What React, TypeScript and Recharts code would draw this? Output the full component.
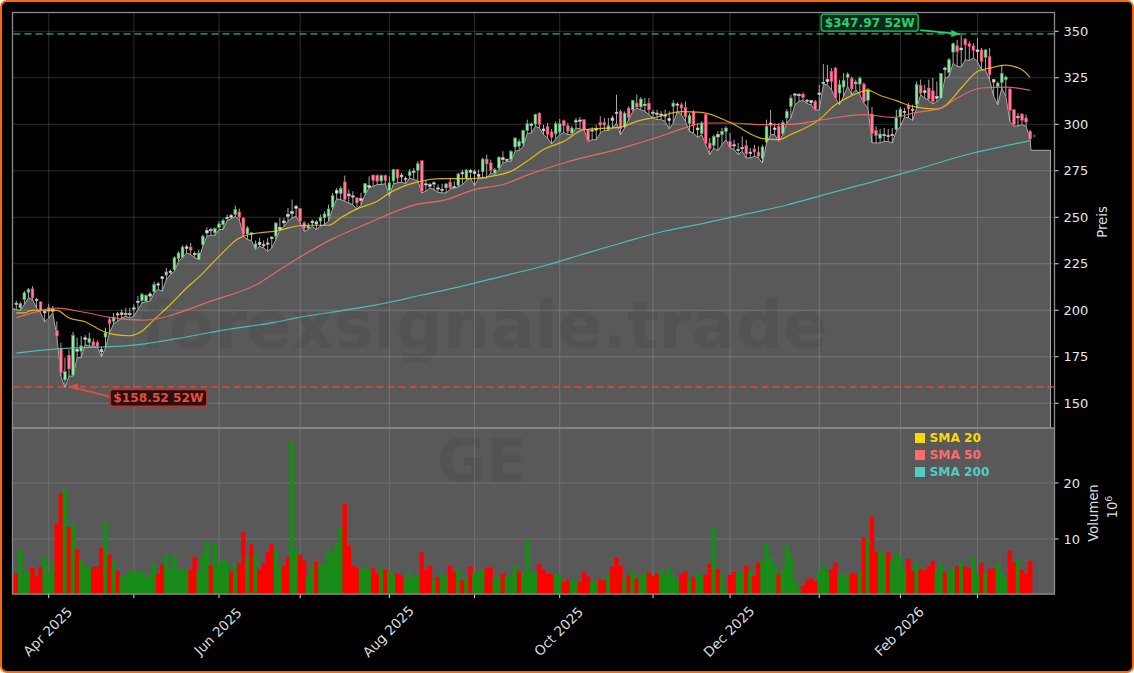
import React from "react";
import { ComposedChart, Area, Bar, Line, XAxis, YAxis, CartesianGrid, ReferenceLine, ReferenceDot } from "recharts";

const FONT = '"DejaVu Sans", sans-serif';

const opens = [
203.8,201.3,205.8,209.7,211.5,205.8,204.5,199.5,199.5,199.5,
189.1,179.5,162.5,175.7,165.2,178,178,184.3,182.7,183,
182.7,178.9,185.6,195,194.1,197.5,197.7,197.8,197.8,200.8,
204.3,205.2,204.9,208.8,209.9,213.5,217,218.9,220.5,221.9,
227.8,228.5,233.2,234,230,227.3,235.3,241.6,243,241.6,
244.6,246,249.3,250,251.4,252.9,249.6,241,241.2,233.5,
236.6,234.9,235.7,238.5,239.8,243.5,247,250.5,252,254.8,
254.7,247,244.1,247,247.5,247.9,249.7,250.5,255.4,263,
262.7,269,262.5,261,260.4,259,263.1,266,272.7,272.4,
269.5,272.4,264.5,269.5,275.6,272.7,270.5,272.4,274.4,275.3,
280.4,268,266.7,268,265.5,264.8,265.8,269,266.5,267,
273.7,271.1,275.2,273.5,272,274.5,281.3,279.2,273.8,276.5,
281,280.5,281,287.8,288.2,289.6,296.7,299.3,300.1,306,
297.5,298.9,295.9,294.8,295.8,301.9,299.2,295.3,301.5,302,
302.5,297.1,296.5,297,301,301,297.1,303.4,306,307,
298.5,308.7,307.8,311.4,309.3,310.8,311.4,306.5,305.5,305,
304.5,302,309.6,310.5,310.5,309.1,300.3,306.6,297,295,
305.2,289.9,288.7,294.4,294.4,296.2,290.8,288.7,286,287,
288.5,285,286.7,285.1,281.5,290.3,299.6,297.1,298.9,294.9,
303.4,309.6,316,315.6,316.2,313,311.7,312.3,316,322,
323,328.4,330.2,316.8,320,325.2,324.8,322,321.6,321.6,
312.9,305.5,296.7,292.5,294,293.5,294,297.1,304,306.5,
310,307.5,310.5,320.9,317,319.5,318,314,314.1,329.5,
327.9,338.8,342.2,340,345.8,343.3,342.2,339,340,336,
336.5,324,320.4,322.5,324,319,307.8,303.7,305.5,303.4,
296.2,293];

const highs = [
205.2,204.5,210.3,212,212.9,206.7,204.9,200.4,203.5,202.2,
194.1,182.5,174.5,178.9,188.4,185.2,186.1,186.6,187.9,184.8,
183.8,180.2,190.6,196.3,198.6,199.2,200.4,201.3,201.3,203.1,
207.6,209.4,208.5,209.9,215.3,215.3,218.3,222.8,221.9,229,
231.7,235,235.3,236.2,231.7,232.6,240.7,244.6,244.3,244.6,
247.8,249.3,251.4,251.8,256.3,254.7,250,245.2,241.6,237.5,
238.9,237.5,238.9,239.8,247.3,249.7,249.7,255,259.5,256.8,
255,247.9,247,248.8,248.4,251.5,253.2,256.8,263.1,265.8,
266.7,272.4,265,264,260.9,263.1,268.4,272,272.9,273.1,
272.9,272.9,272,276,276,273.8,272,276,276.5,280.1,
280.6,270.2,268.5,269.4,267.6,268.1,268.5,271.1,269.4,273.8,
275.6,276,276,275.6,275.6,281.9,283.7,281,276.5,282.8,
285.5,281.5,286,293,292,297.1,302.5,301,305.7,306.4,
299.8,300.7,297.4,301.6,302.8,302.5,300.7,299.2,303.4,303.9,
302.5,297.5,298.5,299.8,304.3,303.4,303.4,304.6,315.9,307.8,
306.9,309.6,313.2,315.9,314.6,314.1,314.1,307.8,307.8,307,
307.8,307,312.9,311.8,311.8,312.3,306,307.5,300.7,301.6,
305.7,292.6,294.4,296.2,298,298.9,295.3,291.7,289.9,293.5,
291.7,287.3,289,288.1,289,302.5,307.8,300.7,300.7,302.1,
308.2,315.9,316.8,316.8,317.1,313.6,313.2,313.2,321.3,332.4,
332,330.2,330.8,324,327.5,327.9,325.7,324,325.7,322.5,
319.5,309.3,298.9,297.5,298,297.5,298,307.8,309.3,308.7,
311.4,310.5,323,324,321.3,324,324.9,323,327.5,331.1,
335.6,344,345.4,347.97,346.3,344.5,343.6,346.3,341,340.4,
341,324.3,323,332,326.1,319.5,308.2,306,306,305.2,
297.1,294.5];

const lows = [
200.4,199.9,203.1,206.7,205.8,201.3,198.6,193.8,195.9,198.6,
186.1,164.6,158.52,164.6,164.6,174.5,174.5,181.6,180.7,180.7,
180.2,175,179.8,187.9,192.7,194.1,195.9,196.8,195.9,196.8,
200.4,204,204.5,204.9,209.4,211.2,210.3,216.5,219.2,221,
226.4,228.2,230.8,230,228.2,227.3,234.4,239.8,240.3,240.3,
243.4,243.4,248.2,249.3,250.5,248.7,239.8,238,237.5,232.6,
234.4,233.5,231.7,233.5,238,243,245.2,247.9,249.7,250.5,
247,242.5,243.4,245.2,243.4,245.2,246.1,247.9,254.5,259.9,
259.5,258.6,257.7,256.8,254.1,256.8,262.2,265.8,266.7,267.6,
267.6,268.1,261.3,268.1,268.5,268.8,268.1,271.1,270.2,269.9,
263.1,264,265.8,264.9,263.4,263.1,263.1,265.2,265.8,266.3,
267.6,269.9,271.1,267,271.1,271.1,271.1,273.8,272.9,275.6,
279.2,280.1,280.1,285.5,286,288.1,295,295.3,298.9,298,
294.4,292.6,289.4,292.1,294.4,295.7,294.4,294.4,298,297.5,
297.1,290.8,291.7,291.7,295.3,296.7,296.7,298,300.7,294.4,
298,302.5,306.9,308.7,307.8,307,305.2,303.4,302.5,302.5,
301.6,297.5,300.7,307,305.2,301.6,296.2,295.3,293,294.4,
289,283.7,287.3,285.8,289,291.7,287.3,286.4,283.7,285.5,
281.9,281.9,282.8,281.9,279.2,289.9,294.4,294.4,290.8,294.4,
300.7,303.4,310.5,312.3,312.9,311.1,310.5,307.5,307.8,321.3,
321.3,318.6,314.1,310.5,315,320.4,315.9,318.6,315.9,311.4,
308.7,290,290,290,290.8,290.8,290,296.2,298.9,303.9,
303.4,302.1,308.7,315.9,314.1,312.9,311,312.3,314.1,324.8,
325.7,332.9,331.1,330.8,334.7,334.3,335.6,333.8,329.3,329,
324,315,310.5,319.5,315,301.6,298.9,299.2,299.8,298.9,
291.7,293];

const closes = [
203.1,203.5,209.4,211.2,206.7,205.2,199.9,198.6,201.3,200.4,
186.1,166.4,167,168.5,186.5,179,180.9,185.2,184.8,181,
180.7,177.7,187.9,192.7,196.3,198.1,198.6,198.3,198.3,201.3,
204.9,208.5,208,207.6,213.8,214.2,218,220.6,221,228.2,
230.8,234,234.1,232.3,230.5,230.8,239.8,242.8,243.4,243.9,
246.4,248.2,250,251,254.3,250,240.7,244.3,241.6,235.7,
235.3,235.3,236.2,239.3,246.9,244.5,248,251.5,253,255.9,
247.9,244.1,245.5,247.9,246.4,250,251.8,254.5,261.6,264.3,
265.6,259.5,261.5,261.5,257.7,260,268,267,269.9,269.4,
272.4,269.9,268.5,275.6,271.1,271.7,271,274.5,274.8,278.8,
264,267.5,267.6,268.5,265.8,265,267.9,265.8,266.3,273.3,
274,275.4,274.2,274.5,273,281.3,278.7,275.2,275.6,282.3,
282,281.2,285.5,292.6,290.8,296.6,300.3,300.1,305.2,299.8,
296.4,294.4,293,300.3,300.3,299.2,296.2,298,301.9,302.3,
297.1,291.2,297,297.5,299.6,299.6,299.2,302.1,306.5,297.5,
306,303.6,312.7,309.3,313.6,310.3,307.8,306,306,305.5,
305,303,311.4,310.9,308.7,303.9,304.8,299.6,298,300.7,
289.6,286.9,293.5,293.2,296.2,298,287.6,289,286.5,287.5,
284,284.5,285.1,282.8,287.8,298.9,300.7,298,291.4,301,
306.9,314.1,316.3,316,314.5,312.8,312.7,307.8,316.8,322.5,
324,323,314.1,321.3,323.6,327,319,322.5,324.8,312.3,
318.6,295,293.9,294.8,294.5,294,294.5,303.4,308.2,307,
308.2,308,321.3,316.8,318,313.6,312.3,315,327.2,330.2,
334.7,343.3,339,341,342.7,341.8,339.7,340,333.8,340,
326.6,322.7,322.2,327.2,325.4,307.3,299.8,304.2,302.1,301.2,
292.1,294.5];

const volumes = [
3.9,8,4.05,4.05,4.8,3.3,5,6.9,3.8,6,
12.7,18.2,18.7,12.1,12.6,8.1,6.4,5.2,5,5,
5,8.45,13,7.2,6,4.3,3.3,3.45,4.2,4.6,
3.9,4.3,3.2,3.9,5.7,3.8,5.4,7.2,4.6,7.2,
4.6,4.5,4.4,4.5,6.8,4.2,7.2,9.5,5.2,9.1,
5.4,6.4,5.8,4.2,5.7,5.7,11.2,6.8,9,7.3,
4.6,5.7,7.7,9.2,8.1,5.2,5.2,6.8,27.3,8.1,
7.2,6.1,3.3,5.2,5.9,5.6,5.6,8,7.5,9.3,
12,16.3,8.7,5.2,4.8,4.6,5.1,4.5,4.8,3.9,
4.8,4.5,4.3,3.3,3.9,3.5,2.9,4.3,3.2,3.6,
7.6,4.5,5.2,2.6,3.2,3.8,3.3,5.2,4.2,4.6,
2.6,3.2,5.1,3.9,4.2,4.5,4.9,4.9,3,3,
3.9,3.3,3.6,5.4,4.2,3.9,9.7,4.2,3.9,5.6,
4.5,3.8,3.8,3.9,3.6,2.3,2.7,2.6,2.6,2.4,
4.2,3.3,2.4,2.4,2.7,2.6,3.8,5,6.6,5.2,
3,3.5,4.2,2.9,3.6,3.8,4,3.3,3.8,4.6,
3.6,4.8,3.6,2.6,3.8,4.2,2.7,3.2,4,3.5,
3.6,5.6,12,4.6,3.9,1.2,3.6,4.1,4,4.1,
5.2,4.2,3.4,5.8,5.9,9.2,6.7,5.2,3.7,4.5,
8.8,6.8,2.6,0.9,1.7,2.6,3,2.4,4.2,5.5,
4.2,4.6,5.8,3.5,3.9,3.3,3.8,3.9,4,10.3,
10,14,7.7,7.7,7.4,7.6,6.1,7.3,6.6,4.5,
6.4,4.3,5.7,4.6,4.5,5.1,6.1,4.3,5.7,4,
4.3,5,5.1,6,5.1,4.7,6.8,3.9,5.7,3.9,
4.7,4.7,5.7,4.2,3.2,7.9,5.8,6.3,4.6,3.8,
6.1];

const redBars = [0,4,5,6,10,11,13,15,19,20,21,23,25,35,36,43,44,48,53,55,56,58,60,61,62,63,66,67,70,71,74,81,82,83,84,
88,89,91,94,95,100,101,102,104,107,108,110,112,116,117,120,124,129,130,131,132,135,136,139,140,141,144,145,147,148,149,151,153,156,157,158,164,165,167,170,171,173,
176,177,180,182,183,188,194,195,196,197,201,202,206,207,209,211,212,215,220,221,223,224,225,226,229,232,234,235,238,240,241,245,246,248,249,250];

const sma20 = [[0,198.6],[2,198.6],[4,200],[7,200],[10,199.9],[13,195.9],[17,193.8],[21,189.1],[24,187],[28,186.3],[31,188.8],[34,195],[38,203.1],[42,212],[45,217.8],[50,229],[55,238.9],[58,241],[64,242.6],[71,245.7],[77,245.7],[80,249.7],[84,254.5],[89,258.6],[92,263],[99,269],[105,270.8],[112,270.8],[118,272.4],[122,274.7],[127,281.8],[130,286.4],[135,290.8],[140,297.1],[149,298.5],[153,301.6],[158,303.9],[164,306.8],[169,306.4],[176,301],[184,292.3],[188,291.7],[191,294.5],[198,302.5],[202,310.5],[206,315.4],[210,318.2],[213,315.5],[217,312.7],[221,309.6],[227,308.2],[229,310],[233,319.5],[237,328.4],[240,330.2],[244,331.8],[248,329.3],[250,325.2]];
const sma50 = [[0,196],[4,198.6],[10,201.1],[16,199.2],[24,195.9],[31,194.7],[36,195.9],[40,198.6],[48,204.9],[60,214.7],[64,220.5],[78,238.4],[87,247],[98,256.5],[106,259.5],[113,264.9],[120,267.6],[127,273.5],[135,279.2],[150,287.6],[160,294.4],[166,298.9],[170,300.7],[176,300.7],[184,299.8],[191,300],[199,302.5],[209,305.2],[216,303.7],[222,306.4],[228,308.7],[232,314.1],[238,319.5],[244,320],[250,318.2]];
const sma200 = [[0,177],[10,179.2],[23,180.4],[29,181.3],[40,184.9],[50,188.9],[64,193.6],[70,196.3],[80,199.7],[90,203.4],[100,208.2],[110,213],[120,218.4],[130,223.8],[140,230.3],[150,236.7],[160,242.6],[170,247],[180,251.8],[190,256.6],[200,262.6],[210,268.4],[220,274.4],[235,284],[245,288.9],[250,291.2]];

const axisLabels: Record<number, string> = { 8: "Apr 2025", 50: "Jun 2025", 92: "Aug 2025", 134: "Oct 2025", 176: "Dec 2025", 218: "Feb 2026" };
const monthTicks = [8, 29, 50, 70, 92, 113, 134, 157, 176, 198, 218, 237];
const priceTicks = [150, 175, 200, 225, 250, 275, 300, 325, 350];
const volumeTicks = [10, 20];
const legendItems = [["SMA 20", "#ffd700"], ["SMA 50", "#ff6b6b"], ["SMA 200", "#4ecdc4"]];

const PRICE_DOMAIN = [136.7, 360.1];
const VOLUME_DOMAIN = [0.18, 29.8];
const X_DOMAIN = [-0.93, 256];
const FORMING = 251;

const lookup = (pairs: number[][]) => new Map(pairs.map((p) => [p[0], p[1]]));
const s20 = lookup(sma20), s50 = lookup(sma50), s200 = lookup(sma200);

const priceRows: any[] = opens.map((open, i) => ({
  i, open, high: highs[i], low: lows[i], close: closes[i],
  range: [lows[i], highs[i]],
  edge: i === FORMING ? 286 : lows[i],
  sma20: s20.get(i) ?? null, sma50: s50.get(i) ?? null, sma200: s200.get(i) ?? null,
}));
// the shaded low line starts at the panel edge, steps down after the last full session, closes at the floor
priceRows.splice(FORMING, 0, { i: 250.2, edge: 286 });
priceRows.unshift({ i: X_DOMAIN[0], edge: 201 });
priceRows.push({ i: 255, edge: 286 }, { i: 255.02, edge: PRICE_DOMAIN[0] });

const redSet = new Set(redBars);
const volumeRows = volumes.map((v, i) => ({ i, v, red: redSet.has(i) }));

const CANDLE_W = 2.8;
const Candle = (p: any) => {
  const { x, y, width, height, payload } = p;
  if (payload.high == null) return null;
  const { open, high, low, close, i } = payload;
  const k = height / (high - low || 1);
  const top = y + (high - Math.max(open, close)) * k;
  const raw = Math.abs(open - close) * k;
  const h = Math.max(raw, 1.2);
  const cx = x + width / 2;
  const up = close >= open;
  if (i === FORMING) return <rect x={cx - CANDLE_W / 2} y={top} width={CANDLE_W} height={h} fill="#1d5a33" />;
  const tiny = raw < 2.6;
  const fill = tiny ? (up ? "#dcefdc" : "#f6d3da") : up ? "#9be2a5" : "#ff7f9b";
  const edge = tiny ? "#bdbdbd" : up ? "#3f9f5e" : "#d93a66";
  return (
    <g>
      <line x1={cx} x2={cx} y1={y} y2={y + height} stroke="#bcbcbc" strokeWidth={0.9} />
      <rect x={cx - CANDLE_W / 2} y={top} width={CANDLE_W} height={h} fill={fill} stroke={edge} strokeWidth={0.6} />
    </g>
  );
};

const VolumeBar = ({ x, y, width, height, payload }: any) => (
  <rect x={x + width / 2 - 2.25} y={y} width={4.5} height={height} fill={payload.red ? "#ff0000" : "#178c17"} />
);

const Note = ({ cx, cy, text, color, edge, bg, box, tip }: any) => (
  <g>
    <line x1={cx + box[2]} y1={cy + box[4]} x2={cx + tip[0]} y2={cy + tip[1]} stroke={color} strokeWidth={1.8} />
    <polygon points={box[2] < 0
      ? `${cx + tip[0]},${cy + tip[1]} ${cx + tip[0] - 9},${cy + tip[1] - 4} ${cx + tip[0] - 9},${cy + tip[1] + 3}`
      : `${cx + tip[0]},${cy + tip[1]} ${cx + tip[0] + 9},${cy + tip[1] - 3} ${cx + tip[0] + 9},${cy + tip[1] + 4}`} fill={color} />
    <rect x={cx + box[0]} y={cy + box[1]} width={97} height={17} rx={3} fill={bg} stroke={edge} strokeWidth={1.8} />
    <text x={cx + box[0] + 48.5} y={cy + box[1] + 13} textAnchor="middle" fontFamily={FONT} fontWeight="bold" fontSize={12.2} fill={color}>{text}</text>
  </g>
);

const MonthTick = ({ x, y, payload }: any) => {
  const label = axisLabels[payload.value];
  return (
    <g>
      <line x1={x} x2={x} y1={y - 4} y2={y} stroke="#e0e0e0" strokeWidth={1} />
      {label ? (
        <text x={x - 0.5} y={y + 34} textAnchor="middle" dominantBaseline="middle" fontFamily={FONT} fontSize={13.6} fill="#dcdcdc" transform={`rotate(-45 ${x - 0.5} ${y + 34})`}>{label}</text>
      ) : null}
    </g>
  );
};

const gridStroke = "rgba(255,255,255,0.17)";
const yTick = { fill: "#e6e6e6", fontSize: 13, fontFamily: FONT };

export default function App() {
  return (
    <div style={{ position: "absolute", left: 0, top: 0, width: 1134, height: 673, background: "#000", overflow: "hidden", boxSizing: "border-box", border: "2.5px solid #ff6600", borderRadius: 7 }}>
      <div style={{ position: "absolute", left: -2.5, top: -2.5, width: 1134, height: 673 }}>
        <div style={{ position: "absolute", left: 0, top: 0 }}>
          <ComposedChart width={1134} height={428} data={priceRows} margin={{ top: 12.5, left: 12.5, right: 0, bottom: 0 }}>
            <CartesianGrid stroke={gridStroke} strokeWidth={1} />
            <XAxis dataKey="i" type="number" domain={X_DOMAIN} ticks={monthTicks} hide allowDataOverflow />
            <YAxis orientation="right" width={79.5} domain={PRICE_DOMAIN} ticks={priceTicks} allowDataOverflow axisLine={false} tickSize={4} tickMargin={5} tick={yTick} tickLine={{ stroke: "#e0e0e0" }} interval={0} />
            <Area dataKey="edge" type="linear" stroke="#a9a9a9" strokeWidth={1} fill="#ffffff" fillOpacity={0.35} isAnimationActive={false} dot={false} activeDot={false} />
            <Bar dataKey="range" barSize={3} shape={<Candle />} isAnimationActive={false} />
            <Line dataKey="sma20" type="monotone" stroke="#ffd700" strokeWidth={1.2} strokeOpacity={0.8} dot={false} connectNulls isAnimationActive={false} />
            <Line dataKey="sma50" type="monotone" stroke="#ff6b6b" strokeWidth={1.2} strokeOpacity={0.85} dot={false} connectNulls isAnimationActive={false} />
            <Line dataKey="sma200" type="monotone" stroke="#4ecdc4" strokeWidth={1.2} strokeOpacity={0.85} dot={false} connectNulls isAnimationActive={false} />
            <ReferenceLine y={348.6} stroke="#2ecc71" strokeOpacity={0.65} strokeWidth={1.8} strokeDasharray="7 4" />
            <ReferenceLine y={158.8} stroke="#e74c3c" strokeOpacity={0.75} strokeWidth={1.8} strokeDasharray="7 4" />
            <ReferenceDot x={233} y={347.97} r={0} ifOverflow="visible" shape={(p: any) => (
              <Note cx={p.cx} cy={p.cy} text="$347.97 52W" color="#2ecc71" edge="#1f9a55" bg="#0b2a1a" box={[-140, -21, -41, 0, -5]} tip={[-1, -1]} />
            )} />
            <ReferenceDot x={12} y={158.52} r={0} ifOverflow="visible" shape={(p: any) => (
              <Note cx={p.cx} cy={p.cy} text="$158.52 52W" color="#e74c3c" edge="#b5362b" bg="#2a1010" box={[45, 2, 44, 0, 9]} tip={[4, -1]} />
            )} />
          </ComposedChart>
        </div>
        <div style={{ position: "absolute", left: 0, top: 428 }}>
          <ComposedChart width={1134} height={245} data={volumeRows} margin={{ top: 0, left: 12.5, right: 0, bottom: 0 }}>
            <CartesianGrid stroke="#6f6f6f" strokeWidth={1} fill="#595959" fillOpacity={1} />
            <XAxis dataKey="i" type="number" domain={X_DOMAIN} ticks={monthTicks} height={79} allowDataOverflow axisLine={false} tickLine={false} tick={<MonthTick />} tickMargin={0} tickSize={4} interval={0} />
            <YAxis orientation="right" width={79.5} domain={VOLUME_DOMAIN} ticks={volumeTicks} allowDataOverflow axisLine={false} tickSize={4} tickMargin={5} tick={yTick} tickLine={{ stroke: "#e0e0e0" }} interval={0} />
            <Bar dataKey="v" barSize={4} shape={<VolumeBar />} isAnimationActive={false} />
          </ComposedChart>
        </div>
        <svg width={1134} height={673} style={{ position: "absolute", left: 0, top: 0, pointerEvents: "none" }}>
          <text x={484} y={348} textAnchor="middle" fontFamily={FONT} fontWeight="bold" fontSize={66} fill="rgba(0,0,0,0.06)">forexsignale.trade</text>
          <text x={482} y={482} textAnchor="middle" fontFamily={FONT} fontWeight="bold" fontSize={60} fill="rgba(0,0,0,0.06)">GE</text>
          <rect x={12.5} y={12.5} width={1042} height={415.5} fill="none" stroke="#8a8a8a" strokeWidth={1.3} />
          <rect x={12.5} y={428} width={1042} height={166} fill="none" stroke="#8a8a8a" strokeWidth={1.3} />
          <text transform="translate(1107 222) rotate(-90)" textAnchor="middle" fontFamily={FONT} fontSize={13.2} fill="#dcdcdc">Preis</text>
          <text transform="translate(1098 513) rotate(-90)" textAnchor="middle" fontFamily={FONT} fontSize={13.2} fill="#dcdcdc">Volumen</text>
          <text transform="translate(1117 507) rotate(-90)" textAnchor="middle" fontFamily={FONT} fontSize={13.2} fill="#dcdcdc">10<tspan fontSize={9.5} dy={-5}>6</tspan></text>
        </svg>
        <div style={{ position: "absolute", left: 915, top: 430, fontFamily: FONT, fontWeight: "bold", fontSize: 12.2, lineHeight: "17px" }}>
          {legendItems.map(([name, color]) => (
            <div key={name} style={{ display: "flex", alignItems: "center", color, height: 17 }}>
              <span style={{ width: 10, height: 10, background: color, marginRight: 5, display: "inline-block" }} />
              {name}
            </div>
          ))}
        </div>
      </div>
    </div>
  );
}
